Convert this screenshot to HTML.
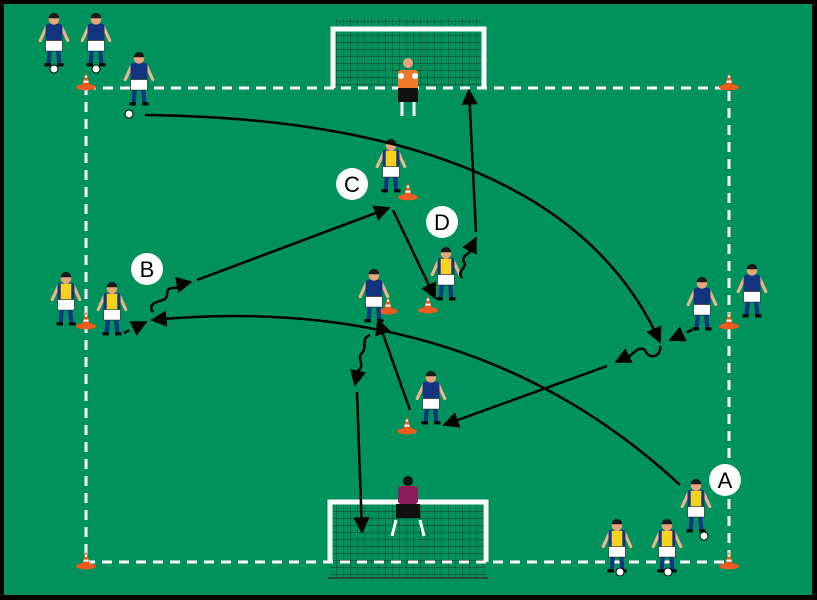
<!DOCTYPE html>
<html><head><meta charset="utf-8"><style>
html,body{margin:0;padding:0;background:#000;}
svg{display:block;}
</style></head><body>
<svg width="817" height="600" viewBox="0 0 817 600" xmlns="http://www.w3.org/2000/svg">
<defs>
<pattern id="net" width="7" height="7" patternUnits="userSpaceOnUse">
<path d="M0 0H7M0 0V7" stroke="#1c3a2a" stroke-width="1" fill="none"/>
</pattern>
<marker id="ah" viewBox="0 0 10 10" refX="9" refY="5" markerWidth="6.5" markerHeight="6.5" orient="auto">
<path d="M0 0L10 5L0 10Z" fill="#000"/>
</marker>
<symbol id="pl" viewBox="0 0 30 52" overflow="visible">
<path d="M8 13 L2 26 M22 13 L28 26" stroke="#f0b48a" stroke-width="3" stroke-linecap="round"/>
<rect x="7" y="10" width="16" height="17" rx="3" fill="#13357f"/>
<rect x="10" y="11" width="10" height="15" fill="currentColor"/>
<rect x="7" y="26" width="16" height="10" fill="#fff" stroke="#222" stroke-width="0.6"/>
<path d="M11 36 L10 48 M19 36 L20 48" stroke="#13357f" stroke-width="4"/>
<path d="M6 49h6M18 49h6" stroke="#000" stroke-width="3"/>
<circle cx="15" cy="6" r="5" fill="#e8a57c"/>
<path d="M10 5a5 5 0 0 1 10 0z" fill="#1a1a1a"/>
</symbol>
<symbol id="cone" viewBox="0 0 16 14" overflow="visible">
<ellipse cx="8" cy="12" rx="8" ry="2.5" fill="#f05a1e"/>
<path d="M4.5 11.5 L8 0 L11.5 11.5Z" fill="#f05a1e"/>
<path d="M6 7.5h4M7 3.5h2" stroke="#fff" stroke-width="1.6"/>
</symbol>
</defs>
<rect x="0" y="0" width="817" height="600" fill="#000"/>
<rect x="4" y="4" width="808" height="591" fill="#00925d"/>

<rect x="336" y="18" width="146" height="68" fill="url(#net)"/>
<path d="M333 88 V29 H484 V88" stroke="#fff" stroke-width="5" fill="none"/>
<rect x="330" y="502" width="156" height="76" fill="url(#net)"/>
<path d="M330 562 V502 H486 V562" stroke="#fff" stroke-width="5" fill="none"/>
<path d="M328 578 H488" stroke="#333" stroke-width="1.5"/>

<rect x="86" y="88" width="643" height="474" fill="none" stroke="#fff" stroke-width="3" stroke-dasharray="10 7"/>

<use href="#cone" x="76" y="72" width="20" height="18"/>
<use href="#cone" x="719" y="72" width="20" height="18"/>
<use href="#cone" x="76" y="551" width="20" height="18"/>
<use href="#cone" x="719" y="551" width="20" height="18"/>
<use href="#cone" x="76" y="311" width="20" height="18"/>
<use href="#cone" x="719" y="311" width="20" height="18"/>
<use href="#cone" x="398" y="182" width="20" height="18"/>
<use href="#cone" x="418" y="295" width="20" height="18"/>
<use href="#cone" x="378" y="296" width="20" height="18"/>
<use href="#cone" x="397" y="416" width="20" height="18"/>

<g>
<rect x="398" y="70" width="20" height="20" rx="3" fill="#f07a2a"/>
<rect x="398" y="88" width="20" height="14" fill="#111"/>
<path d="M402 102 V116 M414 102 V116" stroke="#fff" stroke-width="3"/>
<circle cx="408" cy="63" r="5" fill="#e8a57c"/>
<circle cx="401" cy="76" r="3" fill="#fff"/><circle cx="415" cy="76" r="3" fill="#fff"/>
</g>
<g>
<rect x="398" y="486" width="20" height="18" rx="3" fill="#8c1c5c"/>
<rect x="396" y="504" width="24" height="14" fill="#111"/>
<path d="M396 520 L392 536 M420 520 L424 536" stroke="#fff" stroke-width="3"/>
<circle cx="408" cy="481" r="5" fill="#111"/>
</g>

<g color="#13357f">
<use href="#pl" x="38" y="13" width="32" height="55"/>
<use href="#pl" x="80" y="13" width="32" height="55"/>
<use href="#pl" x="123" y="52" width="32" height="55"/>
<use href="#pl" x="358" y="269" width="32" height="55"/>
<use href="#pl" x="415" y="371" width="32" height="55"/>
<use href="#pl" x="686" y="277" width="32" height="55"/>
<use href="#pl" x="736" y="264" width="32" height="55"/>
</g>
<g color="#f5d21c">
<use href="#pl" x="375" y="139" width="32" height="55"/>
<use href="#pl" x="430" y="247" width="32" height="55"/>
<use href="#pl" x="96" y="282" width="32" height="55"/>
<use href="#pl" x="50" y="272" width="32" height="55"/>
<use href="#pl" x="680" y="479" width="32" height="55"/>
<use href="#pl" x="601" y="519" width="32" height="55"/>
<use href="#pl" x="651" y="519" width="32" height="55"/>
</g>
<g fill="#fff" stroke="#000" stroke-width="1">
<circle cx="54" cy="69" r="4"/><circle cx="96" cy="69" r="4"/>
<circle cx="129" cy="114" r="4"/><circle cx="704" cy="536" r="4"/>
<circle cx="620" cy="572" r="4"/><circle cx="668" cy="572" r="4"/>
</g>

<g stroke="#000" stroke-width="2.5" fill="none" marker-end="url(#ah)">
<path d="M145 115 Q560 120 660 342"/>
<path d="M680 485 Q470 290 152 320"/>
<path d="M197 280 L389 208"/>
<path d="M393 210 L435 298"/>
<path d="M476 232 L469 90"/>
<path d="M357 392 L362 532"/>
<path d="M410 410 L378 320"/>
<path d="M607 366 L444 425"/>
<path d="M153 312 c-6 -8 4 -10 10 -12 c8 -3 0 -12 10 -12 c8 0 8 -4 18 -6"/>
<path d="M462 278 c-6 -8 6 -10 2 -16 c-4 -8 10 -8 8 -16 l4 -8"/>
<path d="M370 335 c-10 4 -2 12 -8 18 c-6 6 4 12 -4 18 l-3 14"/>
<path d="M660 346 c2 10 -10 14 -14 6 c-4 -8 -12 0 -16 4 c-4 4 -10 4 -14 6"/>
<path d="M124 333 L146 322" stroke-dasharray="6 5"/>
<path d="M692 330 L670 340" stroke-dasharray="6 5"/>
</g>

<g font-family="Liberation Sans, sans-serif" font-size="22" text-anchor="middle">
<circle cx="352" cy="184" r="16" fill="#fff"/><text x="352" y="192">C</text>
<circle cx="442" cy="222" r="16" fill="#fff"/><text x="442" y="230">D</text>
<circle cx="147" cy="269" r="16" fill="#fff"/><text x="147" y="277">B</text>
<circle cx="725" cy="480" r="16" fill="#fff"/><text x="725" y="488">A</text>
</g>
</svg>
</body></html>
